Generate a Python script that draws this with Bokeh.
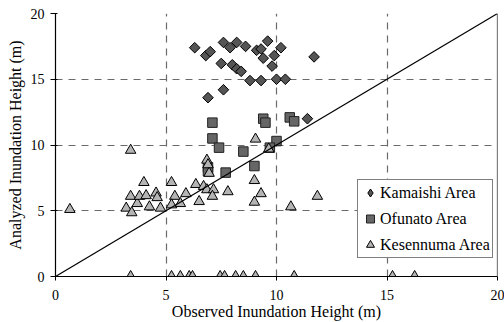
import numpy as np
from bokeh.plotting import figure
from bokeh.models import Range1d, Span, Legend, LegendItem
from bokeh.embed import file_html
from bokeh.resources import INLINE

# ---- data ----
kamaishi_x = [6.3, 6.8, 7.0, 7.6, 7.9, 8.2, 8.6, 9.1, 9.3, 9.6, 9.4, 9.9, 10.2, 9.8,
              7.5, 8.0, 8.2, 8.4, 8.8, 9.3, 10.0, 10.4, 7.6, 6.9, 11.7, 11.4]
kamaishi_y = [17.4, 16.8, 17.1, 17.8, 17.4, 17.8, 17.5, 17.2, 17.3, 17.9, 16.6, 16.8, 17.4, 16.0,
              16.2, 16.1, 15.8, 15.6, 14.9, 14.9, 15.0, 15.0, 14.2, 13.6, 16.7, 12.0]

ofunato_x = [7.1, 7.1, 7.4, 8.5, 9.4, 9.5, 10.6, 10.8, 10.0, 9.7, 9.0, 7.7, 6.9, 6.9]
ofunato_y = [11.7, 10.5, 9.8, 9.5, 12.0, 11.7, 12.1, 11.8, 10.3, 9.8, 8.4, 7.9, 8.3, 8.0]

kesennuma_x = [0.65, 3.2, 3.4, 3.45, 3.7, 3.8, 4.0, 4.1, 4.25, 4.55, 4.6, 4.75, 5.25, 5.4,
               5.25, 5.65, 5.9, 6.35, 6.5, 6.7, 6.85, 7.15, 7.1, 7.8, 6.85, 6.9, 6.95, 9.0,
               9.0, 9.3, 9.05, 9.65, 10.65, 11.85, 3.4,
               3.4, 5.25, 5.65, 6.05, 6.2, 7.45, 7.65, 8.15, 8.5, 9.05, 10.8, 15.25, 16.25]
kesennuma_y = [5.1, 5.2, 6.1, 4.85, 5.55, 6.1, 7.15, 6.15, 5.3, 6.35, 6.0, 5.2, 7.15, 6.1,
               5.45, 5.55, 6.3, 7.0, 5.7, 6.85, 6.6, 6.6, 6.1, 6.45, 8.85, 8.5, 7.85, 7.3,
               5.65, 6.3, 10.45, 9.7, 5.3, 6.1, 9.6,
               0, 0, 0, 0, 0, 0, 0, 0, 0, 0, 0, 0, 0]

diag_x = [0, 20]
diag_y = [0, 20]

x_ticks = [0, 5, 10, 15, 20]
y_ticks = [0, 5, 10, 15, 20]

FONT = "serif"

p = figure(width=504, height=322,
           x_range=Range1d(0, 20), y_range=Range1d(0, 20),
           output_backend="svg", toolbar_location=None,
           min_border_left=55, min_border_right=7, min_border_top=13, min_border_bottom=45)
p.outline_line_color = None
p.background_fill_color = "white"
p.border_fill_color = "white"

# grids
for g, t in ((p.xgrid, x_ticks), (p.ygrid, y_ticks)):
    g.ticker = t
    g.grid_line_color = "#6a6a6a"
    g.grid_line_dash = "7 6"
    g.grid_line_width = 1.2

# axes
p.xaxis.ticker = x_ticks
p.yaxis.ticker = y_ticks
for ax in (p.xaxis, p.yaxis):
    ax.axis_line_color = "black"
    ax.axis_line_width = 1.2
    ax.major_tick_line_color = "black"
    ax.minor_tick_line_color = None
    ax.major_label_text_font = FONT
    ax.major_label_text_font_size = "14px"
    ax.major_label_text_color = "black"
    ax.axis_label_text_font = FONT
    ax.axis_label_text_font_size = "16px"
    ax.axis_label_text_font_style = "normal"
    ax.axis_label_text_color = "black"

p.xaxis.axis_label = "Observed Inundation Height (m)"
p.yaxis.axis_label = "Analyzed Inundation Height (m)"
p.xaxis.major_tick_out = 4
p.xaxis.major_tick_in = 0
p.xaxis.major_label_standoff = 9
p.xaxis.axis_label_standoff = 0
p.yaxis.major_tick_out = 5
p.yaxis.major_tick_in = 2
p.yaxis.major_label_standoff = 6
p.yaxis.axis_label_standoff = 4

# right border
p.add_layout(Span(location=20, dimension="height", line_color="black", line_width=1.2))

r1 = p.scatter(kamaishi_x, kamaishi_y, marker="square", angle=np.pi / 4, size=7.5,
               fill_color="#555555", line_color="black", line_width=1)
r2 = p.scatter(ofunato_x, ofunato_y, marker="square", size=9.5,
               fill_color="#666666", line_color="#222222", line_width=1)
r3 = p.scatter(kesennuma_x, kesennuma_y, marker="triangle", size=10.5,
               fill_color="#b4b4b4", line_color="black", line_width=1)
p.line(diag_x, diag_y, line_color="black", line_width=1.2)

# legend-only diamond (legend glyphs ignore the marker angle); hidden in the plot
r1_leg = p.scatter(kamaishi_x, kamaishi_y, marker="diamond", size=10,
                   fill_color="#555555", line_color="black", line_width=1, visible=False)

legend = Legend(items=[LegendItem(label="Kamaishi Area", renderers=[r1_leg]),
                       LegendItem(label="Ofunato Area", renderers=[r2]),
                       LegendItem(label="Kesennuma Area", renderers=[r3])],
                location=(302, 18))
legend.label_text_font = FONT
legend.label_text_font_size = "16px"
legend.label_text_color = "black"
legend.border_line_color = "black"
legend.border_line_width = 1
legend.background_fill_color = "white"
legend.background_fill_alpha = 1
legend.inactive_fill_alpha = 0
legend.padding = 2
legend.spacing = 5
legend.margin = 0
legend.glyph_width = 20
legend.glyph_height = 21
legend.label_height = 21
legend.label_standoff = 0
legend.click_policy = "none"
p.add_layout(legend)

open("out.html", "w").write(file_html(p, INLINE))
